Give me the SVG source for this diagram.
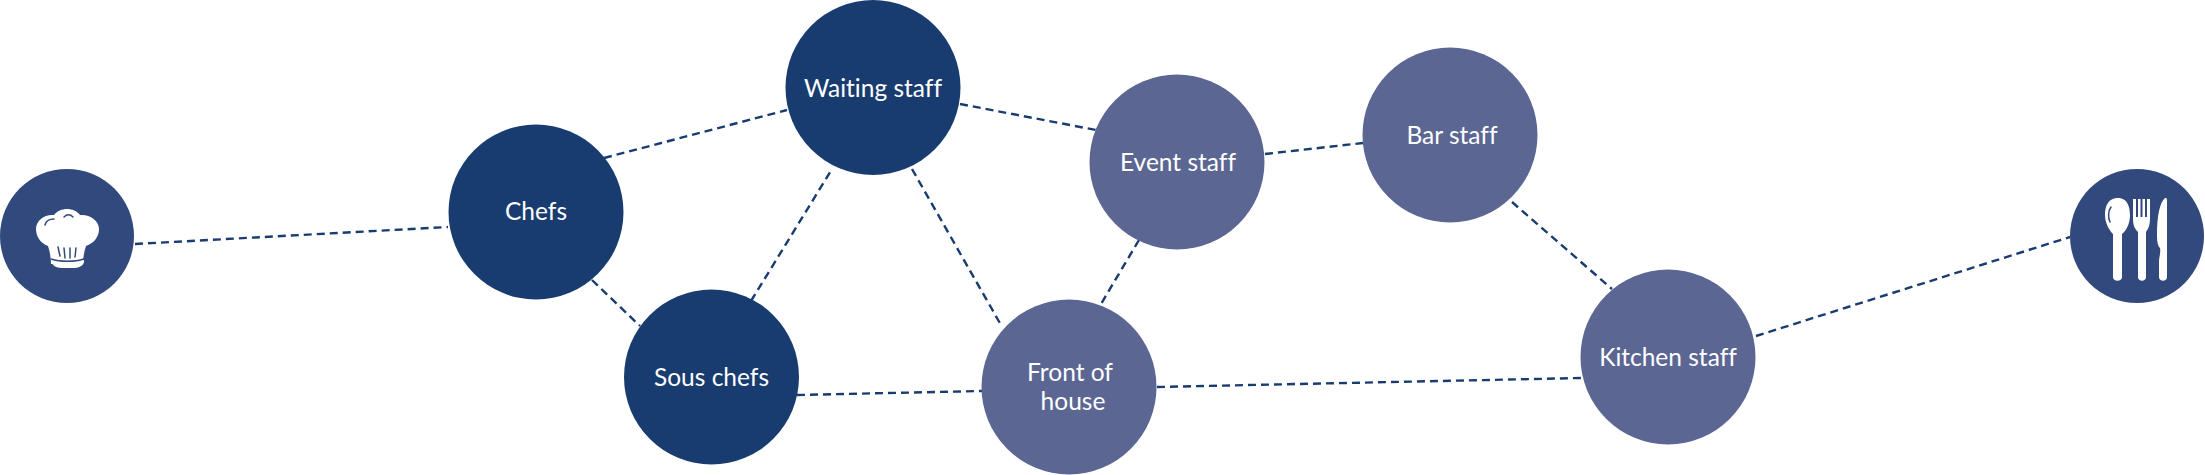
<svg xmlns="http://www.w3.org/2000/svg" width="2205" height="475" viewBox="0 0 2205 475">
<style>
.dk{fill:#193c70}.lt{fill:#5b6693}.ic{fill:#31497c}
.c line{stroke:#193c70;stroke-width:2.4;stroke-dasharray:8 5;fill:none}
text{font-family:"Lato","Liberation Sans",sans-serif;font-size:24.500px;fill:#fff;text-anchor:middle;font-variant-ligatures:none}
.w{fill:#fff}.s{stroke:#31497c;stroke-width:1.5;fill:none;stroke-linecap:round}
</style>
<rect width="2205" height="475" fill="#fff"/>
<g id="connectors" class="c">
<line x1="135" y1="244" x2="448" y2="227"/>
<line x1="604" y1="158" x2="787" y2="110"/>
<line x1="592" y1="280" x2="640" y2="326"/>
<line x1="751" y1="301" x2="832" y2="169"/>
<line x1="912" y1="169" x2="1001" y2="325"/>
<line x1="960" y1="104" x2="1096" y2="130"/>
<line x1="1139" y1="240" x2="1101" y2="304"/>
<line x1="1265" y1="154" x2="1363" y2="143"/>
<line x1="797" y1="395" x2="982" y2="391"/>
<line x1="1157" y1="387" x2="1581" y2="378"/>
<line x1="1512" y1="202" x2="1612" y2="289"/>
<line x1="1756" y1="336" x2="2070" y2="237"/>
</g>
<g id="node-hat">
<circle class="ic" cx="67" cy="236" r="67"/>
<path class="w" d="M51 264C51 258 50 252 48 246C40 243 36 236 36 229C36 220 45 214 54 215C57 211 62 209 67 209C72 209 77 211 80 215C89 214 99 220 99 229C99 237 94 243 86 246C84 252 83 258 83 264Z"/>
<path class="w" d="M52 260C60 263 75 263 84 260L84 262C83 266 79 268 72 268H62C56 268 52 265 52 262Z"/>
<path class="s" d="M58 247L60 256M64 248L65 258M70 248V258M76 248L75 257M45 225C46 221 49 219 54 219M64 217C67 214 70 214 73 217"/>
<path d="M51 259C60 262 75 262 84 259" stroke="#31497c" stroke-width="1.5" fill="none"/>
</g>
<g id="node-chefs"><circle class="dk" cx="536" cy="212" r="87.5"/><text x="536" y="220">Chefs</text></g>
<g id="node-sous"><circle class="dk" cx="711.500" cy="377" r="87.500"/><text x="711.500" y="386">Sous chefs</text></g>
<g id="node-waiting"><circle class="dk" cx="873" cy="87.500" r="87.500"/><text x="873" y="97">Waiting staff</text></g>
<g id="node-event"><circle class="lt" cx="1177" cy="162" r="87.500"/><text x="1178" y="171">Event staff</text></g>
<g id="node-front"><circle class="lt" cx="1069" cy="387" r="87.500"/><text x="1070" y="381">Front of</text><text x="1073" y="410">house</text></g>
<g id="node-bar"><circle class="lt" cx="1450" cy="135" r="87.500"/><text x="1452" y="144">Bar staff</text></g>
<g id="node-kitchen"><circle class="lt" cx="1668" cy="357" r="87.500"/><text x="1668" y="366">Kitchen staff</text></g>
<g id="node-cutlery">
<circle class="ic" cx="2137" cy="236" r="67"/>
<path class="w" d="M2118 198C2107 198 2105 208 2105 215C2105 224 2110 231 2113 234V277C2113 282 2122 282 2122 277V234C2126 231 2130 224 2130 215C2130 208 2128 198 2118 198Z"/>
<path class="s" d="M2111 207C2108 211 2108 218 2110 222"/>
<path class="w" d="M2133 199H2136V217H2138V199H2140.500V217H2142.500V199H2145V217H2147V199H2150V218C2150 226 2148 229 2146 232V277C2146 282 2138 282 2138 277V232C2135 229 2133 226 2133 218Z"/>
<path class="w" d="M2165 198C2160 202 2157 215 2157 235C2157 243 2158 246 2160 248C2161 252 2159 257 2159 262V277C2159 282 2167 282 2167 277V200C2167 198 2166 198 2165 198Z"/>
</g>
</svg>
